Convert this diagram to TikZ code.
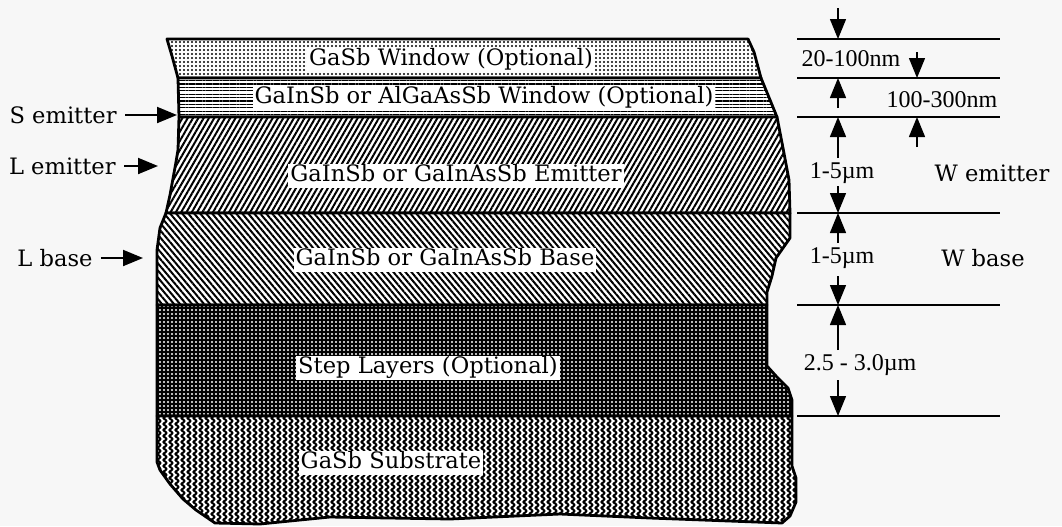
\documentclass[tikz,border=0pt]{standalone}
\usepackage{fontspec}
\setmainfont{DejaVu Serif}
\newfontfamily\cifras{Liberation Serif}
\usetikzlibrary{arrows.meta,patterns.meta,calc}
\definecolor{Fondo}{HTML}{F7F7F7}
\tikzdeclarepattern{
  name=zigzag,
  type=uncolored,
  bounding box={(-0.6pt,-0.6pt) and (3.6pt,3.6pt)},
  tile size={(3pt,3pt)},
  code={\draw[line width=0.9pt] (2.3pt,-1.5pt) -- (0.7pt,0pt) -- (2.3pt,1.5pt) -- (0.7pt,3pt) -- (2.3pt,4.5pt);}
}
\begin{document}
\begin{tikzpicture}[x=0.5pt,y=-0.5pt,
    capa/.style={line width=1.4pt,line join=round,preaction={fill=white},pattern color=black},
    rotulo/.style={fill=white,inner sep=1pt,text height=0.75em,text depth=0.22em,font=\fontsize{11.3}{13}\selectfont},
    lateral/.style={inner sep=1pt,font=\fontsize{11.3}{13}\selectfont},
    medida/.style={inner sep=1pt,font=\cifras\fontsize{12}{14}\selectfont},
    flecha/.style={-{Triangle[length=10pt,width=8pt]},line width=1pt,shorten <=3pt},
    cota/.style={-{Triangle[length=10pt,width=8pt]},line width=0.7pt},
    linea/.style={line width=1.2pt}]
  \useasboundingbox (0,0) rectangle (1062,526);
  \fill[Fondo] (0,0) rectangle (1062,526);
  \draw[capa,pattern={Dots[distance=2pt,radius=0.55pt]}] (167,39) -- (748,39) -- (754,52) -- (761,78) -- (178,78) -- (172,56) -- cycle;
  \draw[capa,pattern={Lines[angle=0,distance=1.7pt,line width=0.6pt]}] (178,78) -- (761,78) -- (768,95) -- (777,117) -- (179,117) -- cycle;
  \draw[capa,pattern={Lines[angle=60,distance=2.3pt,line width=1pt]}] (179,117) -- (777,117) -- (783,148) -- (789,180) -- (790,213) -- (166,213) -- (170,195) -- (176,162) -- (178,150) -- cycle;
  \draw[capa,pattern={Lines[angle=-50,distance=2.3pt,line width=1pt]}] (166,213) -- (790,213) -- (790,238) -- (776,258) -- (772,276) -- (767,292) -- (767,305) -- (157,305) -- (157,250) -- (160,228) -- cycle;
  \draw[capa,preaction={fill=black},pattern={Dots[distance=2pt,radius=0.6pt]},pattern color=white] (157,305) -- (767,305) -- (767,366) -- (776,376) -- (788,388) -- (792,400) -- (792,416) -- (157,416) -- cycle;
  \draw[capa,pattern=zigzag] (157,416) -- (792,416) -- (792,466) -- (796,478) -- (796,502) -- (790,516) -- (782,523) -- (650,518) -- (560,514) -- (450,519) -- (330,517) -- (260,524) -- (215,523) -- (196,510) -- (183,499) -- (170,484) -- (160,470) -- (157,462) -- cycle;
  \node[rotulo] (ventana) at (451,60) {GaSb Window (Optional)};
  \node[rotulo] (ventanados) at (484,98) {GaInSb or AlGaAsSb Window (Optional)};
  \node[rotulo] (emisor) at (456,176) {GaInSb or GaInAsSb Emitter};
  \node[rotulo] (base) at (445,260) {GaInSb or GaInAsSb Base};
  \node[rotulo] (escalones) at (428,368) {Step Layers (Optional)};
  \node[rotulo] (sustrato) at (391,463) {GaSb Substrate};
  \node[lateral,anchor=east] (se) at (119,115) {S emitter};
  \node[lateral,anchor=east] (le) at (118,166) {L emitter};
  \node[lateral,anchor=west] (lb) at (15,258) {L base};
  \coordinate (pse) at (177,115);
  \coordinate (ple) at (158,166);
  \coordinate (plb) at (143,258);
  \draw[flecha] (se) -- (pse);
  \draw[flecha] (le) -- (ple);
  \draw[flecha] (lb) -- (plb);
  \foreach \n/\y in {0/39,1/78,2/117,3/213,4/305,5/416}
    \draw[linea] (797,\y) coordinate (i\n) -- (1000,\y) coordinate (f\n);
  \node[medida] (m1) at (851,59) {20-100nm};
  \node[medida] (m2) at (942,100) {100-300nm};
  \node[medida] (m3) at (842,173) {1-5µm};
  \node[lateral] (we) at (992,173) {W emitter};
  \node[medida] (m4) at (842,258) {1-5µm};
  \node[lateral] (wb) at (983,258) {W base};
  \node[medida] (m5) at (860,365) {2.5 - 3.0µm};
  \coordinate (s0) at (838,8);
  \coordinate (s1) at (917,52);
  \coordinate (s2) at (838,108);
  \coordinate (s3) at (917,147);
  \coordinate (s4) at (838,158);
  \coordinate (s5) at (838,186);
  \coordinate (s6) at (838,243);
  \coordinate (s7) at (838,276);
  \coordinate (s8) at (838,350);
  \coordinate (s9) at (838,380);
  \draw[cota] (s0) -- (s0 |- i0);
  \draw[cota] (s1) -- (s1 |- i1);
  \draw[cota] (s2) -- (s2 |- i1);
  \draw[cota] (s3) -- (s3 |- i2);
  \draw[cota] (s4) -- (s4 |- i2);
  \draw[cota] (s5) -- (s5 |- i3);
  \draw[cota] (s6) -- (s6 |- i3);
  \draw[cota] (s7) -- (s7 |- i4);
  \draw[cota] (s8) -- (s8 |- i4);
  \draw[cota] (s9) -- (s9 |- i5);
\end{tikzpicture}
\end{document}
